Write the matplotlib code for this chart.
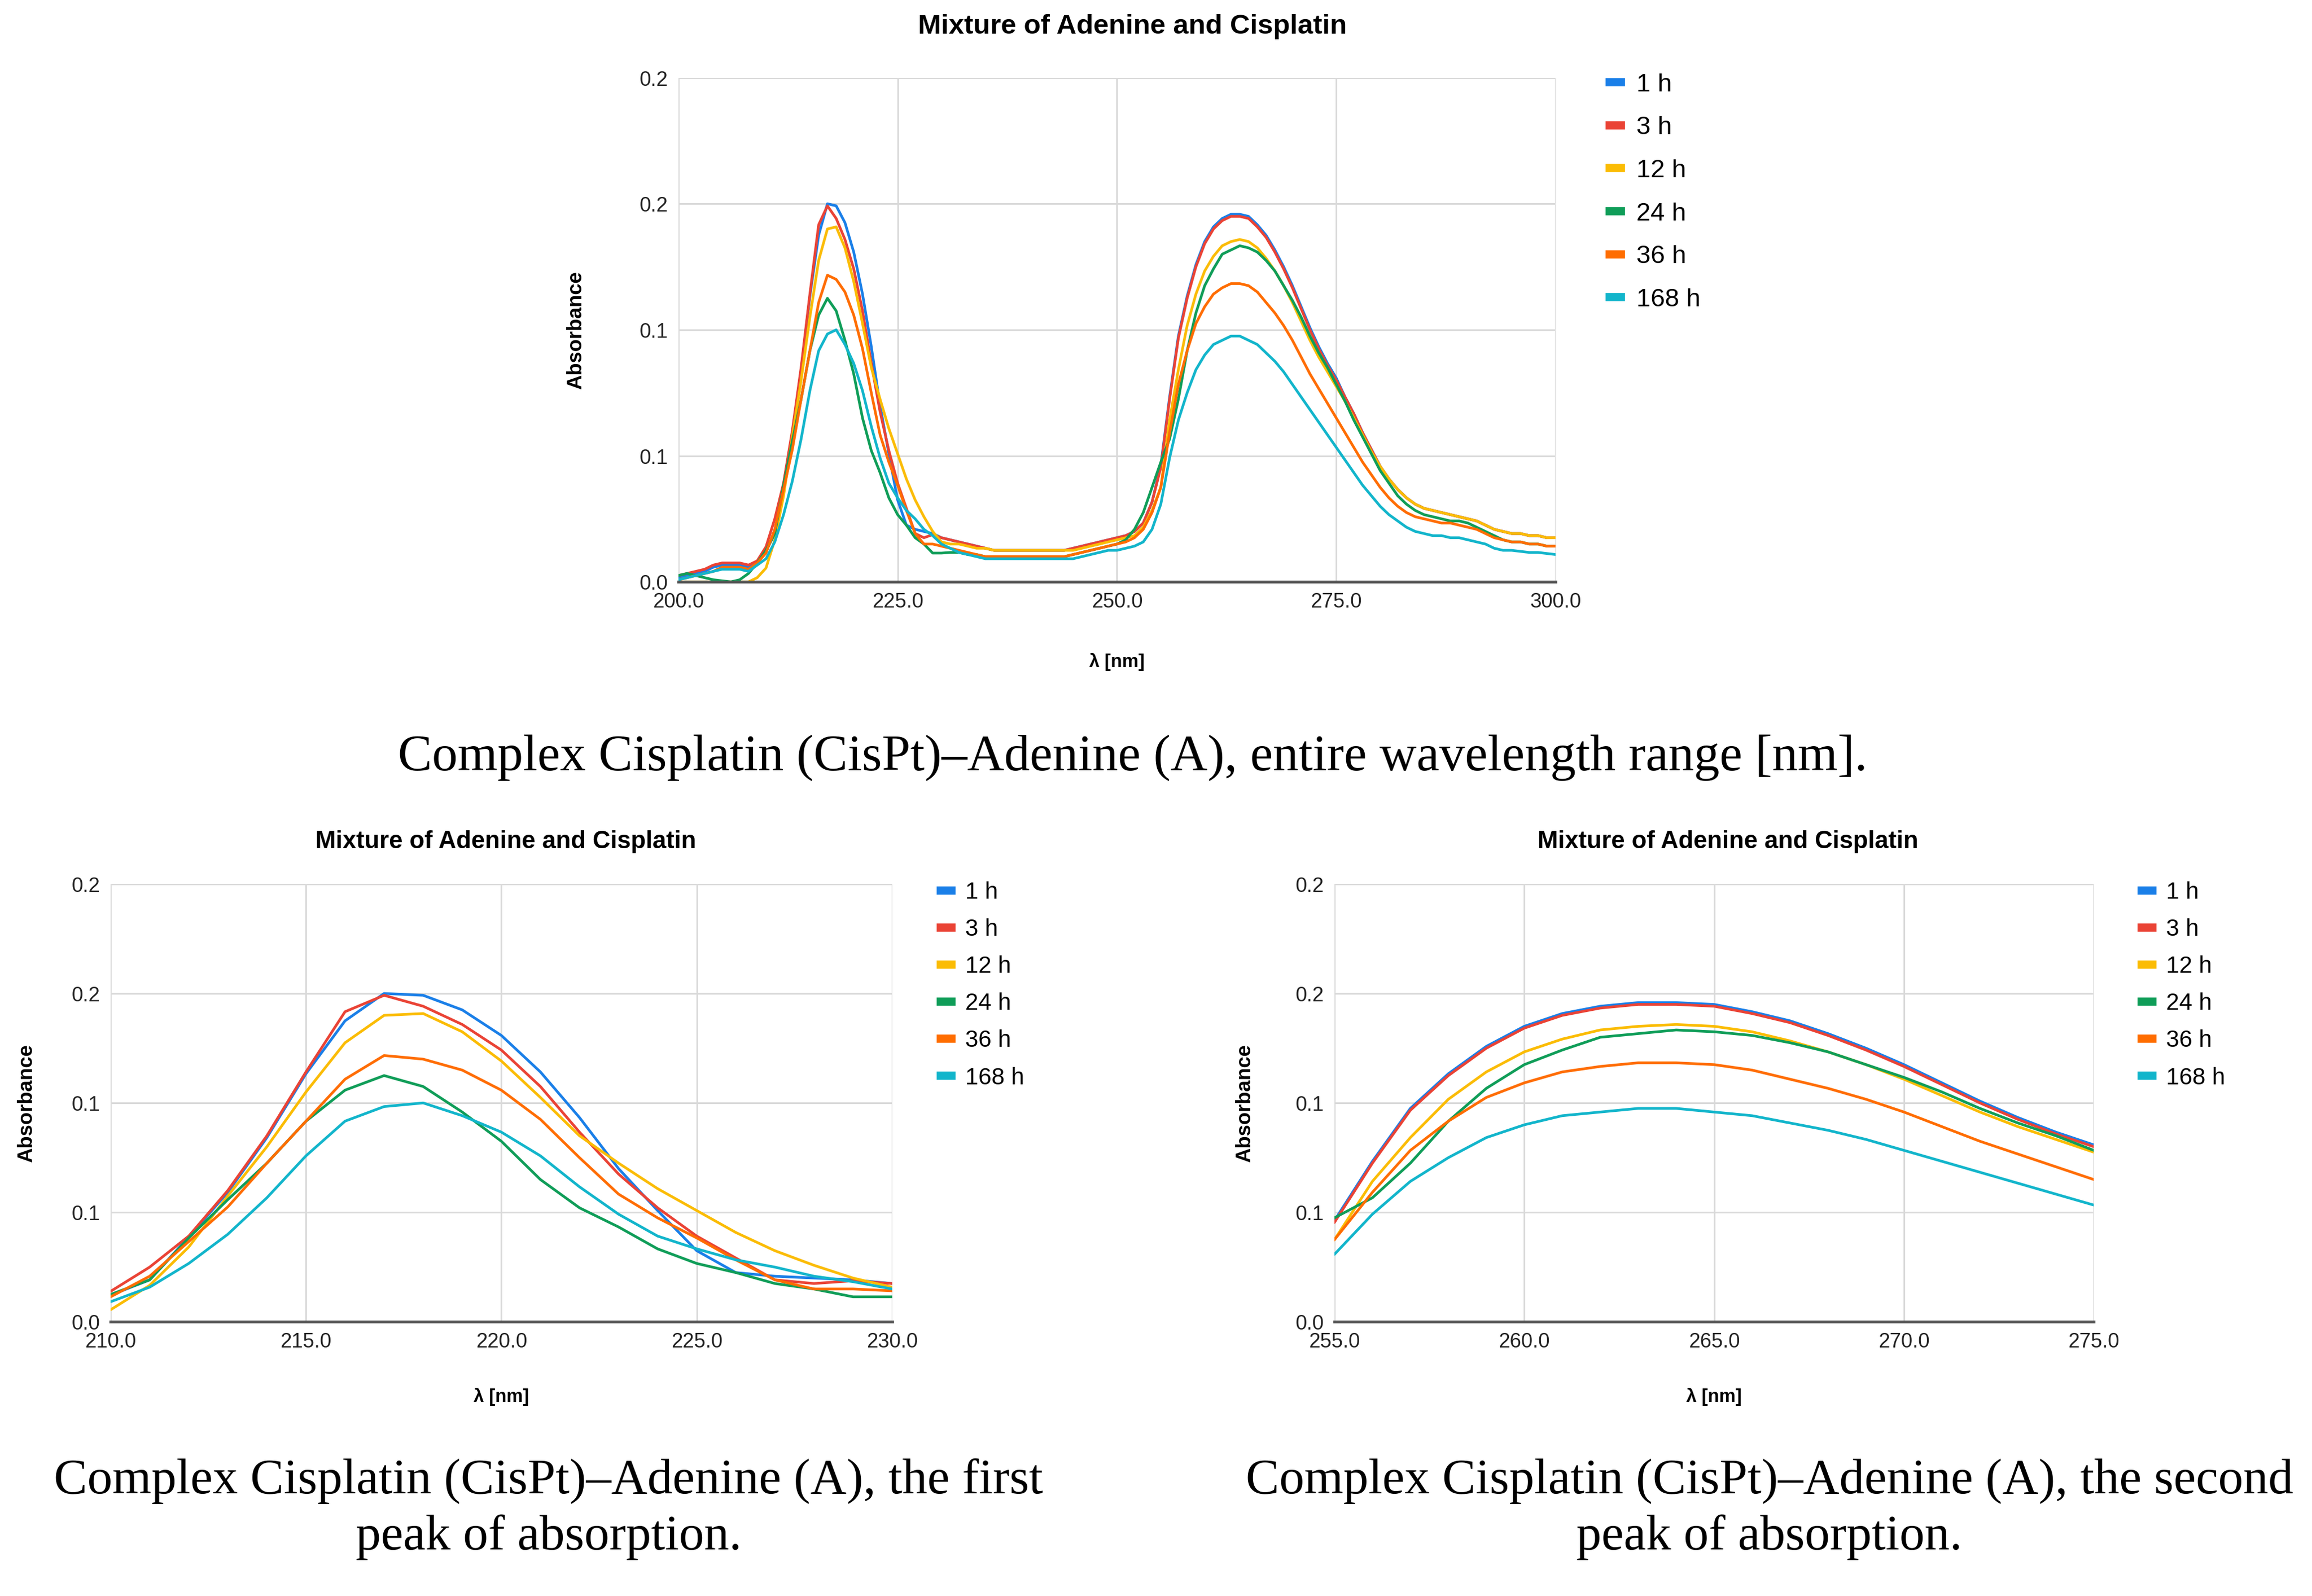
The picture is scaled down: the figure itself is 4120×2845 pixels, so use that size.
import numpy as np
import matplotlib
matplotlib.use("Agg")
import matplotlib.pyplot as plt

# ==========================================
# DATA (absorbance, 200-300 nm, 1 nm step)
# ==========================================

wavelength = list(range(200, 301))

labels = ["1 h", "3 h", "12 h", "24 h", "36 h", "168 h"]
colors = ["#1a7fe8", "#ea4335", "#fbbc04", "#0f9d58", "#ff6d01", "#12b5cb"]

y_ticks = [0.0, 0.06, 0.12, 0.18, 0.24]
y_tick_labels = ["0.0", "0.1", "0.1", "0.2", "0.2"]

a_1h = (
    [0.002, 0.003, 0.004, 0.005, 0.007, 0.008, 0.008, 0.008, 0.007, 0.009]
    + [0.0146, 0.023, 0.0465, 0.071, 0.101, 0.136, 0.165, 0.180, 0.179, 0.171,
       0.157, 0.137, 0.112, 0.084, 0.061, 0.039, 0.027, 0.025, 0.024, 0.023, 0.021]
    + [0.020, 0.019, 0.018, 0.017, 0.016, 0.015, 0.015, 0.015, 0.015, 0.015,
       0.015, 0.015, 0.015, 0.015, 0.016, 0.017, 0.018, 0.019, 0.020, 0.021,
       0.022, 0.024, 0.028, 0.038]
    + [0.0555, 0.088, 0.117, 0.136, 0.151, 0.162, 0.169, 0.173, 0.175, 0.175,
       0.174, 0.170, 0.165, 0.158, 0.150, 0.141, 0.131, 0.121, 0.112, 0.104, 0.097]
    + [0.088, 0.080, 0.071, 0.063, 0.055, 0.049, 0.044, 0.040, 0.037, 0.035,
       0.034, 0.033, 0.032, 0.031, 0.030, 0.029, 0.027, 0.025, 0.024, 0.023,
       0.023, 0.022, 0.022, 0.021, 0.021]
)

a_3h = (
    [0.003, 0.004, 0.005, 0.006, 0.008, 0.009, 0.009, 0.009, 0.008, 0.010]
    + [0.0167, 0.030, 0.047, 0.072, 0.102, 0.137, 0.170, 0.179, 0.173, 0.163,
       0.149, 0.129, 0.104, 0.081, 0.0625, 0.047, 0.035, 0.023, 0.021, 0.0225, 0.021]
    + [0.020, 0.019, 0.018, 0.017, 0.016, 0.015, 0.015, 0.015, 0.015, 0.015,
       0.015, 0.015, 0.015, 0.015, 0.016, 0.017, 0.018, 0.019, 0.020, 0.021,
       0.022, 0.024, 0.028, 0.038]
    + [0.0545, 0.087, 0.116, 0.135, 0.150, 0.161, 0.168, 0.172, 0.174, 0.174,
       0.173, 0.169, 0.164, 0.157, 0.149, 0.140, 0.130, 0.120, 0.111, 0.103, 0.096]
    + [0.088, 0.080, 0.071, 0.063, 0.055, 0.049, 0.044, 0.040, 0.037, 0.035,
       0.034, 0.033, 0.032, 0.031, 0.030, 0.029, 0.027, 0.025, 0.024, 0.023,
       0.023, 0.022, 0.022, 0.021, 0.021]
)

a_12h = (
    [0.0, 0.0, 0.0, 0.0, 0.0, 0.0, 0.0, 0.0, 0.0, 0.002]
    + [0.0066, 0.020, 0.041, 0.069, 0.096, 0.126, 0.153, 0.168, 0.169, 0.159,
       0.143, 0.123, 0.102, 0.087, 0.073, 0.061, 0.049, 0.039, 0.031, 0.024, 0.019]
    + [0.018, 0.018, 0.017, 0.016, 0.016, 0.015, 0.015, 0.015, 0.015, 0.015,
       0.015, 0.015, 0.015, 0.015, 0.015, 0.016, 0.017, 0.018, 0.019, 0.020,
       0.021, 0.022, 0.026, 0.034]
    + [0.045, 0.077, 0.101, 0.122, 0.137, 0.148, 0.155, 0.160, 0.162, 0.163,
       0.162, 0.159, 0.154, 0.148, 0.141, 0.133, 0.124, 0.115, 0.107, 0.100, 0.093]
    + [0.086, 0.078, 0.070, 0.062, 0.055, 0.049, 0.044, 0.040, 0.037, 0.035,
       0.034, 0.033, 0.032, 0.031, 0.030, 0.029, 0.027, 0.025, 0.024, 0.023,
       0.023, 0.022, 0.022, 0.021, 0.021]
)

a_24h = (
    [0.003, 0.004, 0.003, 0.002, 0.001, 0.0005, 0.0, 0.001, 0.004, 0.009]
    + [0.015, 0.023, 0.046, 0.067, 0.087, 0.110, 0.127, 0.135, 0.129, 0.115,
       0.099, 0.078, 0.0625, 0.052, 0.040, 0.032, 0.027, 0.021, 0.018, 0.0137, 0.0137]
    + [0.014, 0.014, 0.013, 0.013, 0.012, 0.012, 0.012, 0.012, 0.012, 0.012,
       0.012, 0.012, 0.012, 0.012, 0.013, 0.014, 0.015, 0.016, 0.017, 0.018,
       0.020, 0.025, 0.033, 0.045]
    + [0.057, 0.068, 0.087, 0.110, 0.128, 0.141, 0.149, 0.156, 0.158, 0.160,
       0.159, 0.157, 0.153, 0.148, 0.141, 0.134, 0.126, 0.117, 0.109, 0.102, 0.094]
    + [0.086, 0.077, 0.069, 0.061, 0.053, 0.047, 0.041, 0.037, 0.034, 0.032,
       0.031, 0.030, 0.029, 0.029, 0.028, 0.026, 0.024, 0.022, 0.020, 0.019,
       0.019, 0.018, 0.018, 0.017, 0.017]
)

a_36h = (
    [0.001, 0.002, 0.003, 0.004, 0.005, 0.007, 0.007, 0.007, 0.006, 0.009]
    + [0.0137, 0.025, 0.044, 0.063, 0.087, 0.110, 0.133, 0.146, 0.144, 0.138,
       0.127, 0.111, 0.090, 0.070, 0.057, 0.046, 0.034, 0.023, 0.018, 0.018, 0.017]
    + [0.016, 0.015, 0.014, 0.013, 0.012, 0.012, 0.012, 0.012, 0.012, 0.012,
       0.012, 0.012, 0.012, 0.012, 0.013, 0.014, 0.015, 0.016, 0.017, 0.018,
       0.019, 0.021, 0.025, 0.033]
    + [0.045, 0.071, 0.094, 0.110, 0.123, 0.131, 0.137, 0.140, 0.142, 0.142,
       0.141, 0.138, 0.133, 0.128, 0.122, 0.115, 0.107, 0.099, 0.092, 0.085, 0.078]
    + [0.071, 0.064, 0.057, 0.051, 0.045, 0.040, 0.036, 0.033, 0.031, 0.030,
       0.029, 0.028, 0.028, 0.027, 0.026, 0.025, 0.023, 0.021, 0.020, 0.019,
       0.019, 0.018, 0.018, 0.017, 0.017]
)

a_168h = (
    [0.001, 0.002, 0.003, 0.004, 0.005, 0.006, 0.006, 0.006, 0.005, 0.008]
    + [0.011, 0.019, 0.032, 0.048, 0.068, 0.091, 0.110, 0.118, 0.120, 0.113,
       0.104, 0.091, 0.074, 0.059, 0.047, 0.040, 0.034, 0.030, 0.025, 0.022, 0.018]
    + [0.016, 0.014, 0.013, 0.012, 0.011, 0.011, 0.011, 0.011, 0.011, 0.011,
       0.011, 0.011, 0.011, 0.011, 0.011, 0.012, 0.013, 0.014, 0.015, 0.015,
       0.016, 0.017, 0.019, 0.025]
    + [0.037, 0.059, 0.077, 0.090, 0.101, 0.108, 0.113, 0.115, 0.117, 0.117,
       0.115, 0.113, 0.109, 0.105, 0.100, 0.094, 0.088, 0.082, 0.076, 0.070, 0.064]
    + [0.058, 0.052, 0.046, 0.041, 0.036, 0.032, 0.029, 0.026, 0.024, 0.023,
       0.022, 0.022, 0.021, 0.021, 0.020, 0.019, 0.018, 0.016, 0.015, 0.015,
       0.0145, 0.014, 0.014, 0.0135, 0.013]
)

series = [a_1h, a_3h, a_12h, a_24h, a_36h, a_168h]

title_text = "Mixture of Adenine and Cisplatin"
caption_top = "Complex Cisplatin (CisPt)\u2013Adenine (A), entire wavelength range [nm]."
caption_left = "Complex Cisplatin (CisPt)\u2013Adenine (A), the first\npeak of absorption."
caption_right = "Complex Cisplatin (CisPt)\u2013Adenine (A), the second\npeak of absorption."

# ==========================================
# FIGURE
# ==========================================

plt.rcParams["font.family"] = ["Liberation Sans Narrow", "Liberation Sans", "DejaVu Sans"]

W, H = 1568, 1083
fig = plt.figure(figsize=(15.68, 10.83), dpi=262.76)


def make_panel(rect, xlim, xticks, label_x, xlabel_y, legend_top, legend_dy, legend_fs):
    ax = fig.add_axes(rect)
    for vals, col, lab in zip(series, colors, labels):
        ax.plot(wavelength, vals, color=col, linewidth=1.3, label=lab)
    ax.set_xlim(*xlim)
    ax.set_ylim(0, 0.24)
    ax.set_xticks(xticks)
    ax.set_xticklabels([f"{t:.1f}" for t in xticks], fontsize=10)
    ax.set_yticks(y_ticks)
    ax.set_yticklabels(y_tick_labels, fontsize=10)
    ax.grid(True, color="#d9d9d9", linewidth=0.8)
    ax.set_axisbelow(True)
    for s in ["top", "right", "left"]:
        ax.spines[s].set_visible(False)
    ax.spines["bottom"].set_color("#555555")
    ax.spines["bottom"].set_linewidth(1.4)
    ax.tick_params(length=0, pad=5, colors="#222222")
    ax.set_ylabel("Absorbance", family="Liberation Sans", fontweight="bold", fontsize=10)
    ax.yaxis.set_label_coords(label_x, 0.5)
    ax.set_xlabel("λ [nm]", family="Liberation Sans", fontweight="bold", fontsize=9)
    ax.xaxis.set_label_coords(0.5, xlabel_y)
    leg = ax.legend(loc="upper left", bbox_to_anchor=(1.035, legend_top), frameon=False,
                    handlelength=0.45, handletextpad=0.6, labelspacing=legend_dy,
                    fontsize=legend_fs)
    for line in leg.get_lines():
        line.set_linewidth(4)
    return ax


ax_top = make_panel([460 / W, 1 - 395 / H, 595 / W, 342 / H],
                    (200, 300), [200, 225, 250, 275, 300], -0.105, -0.14, 1.055, 0.78, 12.5)
fig.text(768 / W, 1 - 18 / H, title_text, ha="center", va="center",
         family="Liberation Sans", fontweight="bold", fontsize=13.5)

ax_bl = make_panel([75 / W, 1 - 897 / H, 530 / W, 297 / H],
                   (210, 230), [210, 215, 220, 225, 230], -0.095, -0.15, 1.055, 0.62, 11.5)
fig.text(343 / W, 1 - 571 / H, title_text, ha="center", va="center",
         family="Liberation Sans", fontweight="bold", fontsize=12)

ax_br = make_panel([905 / W, 1 - 897 / H, 515 / W, 297 / H],
                   (255, 275), [255, 260, 265, 270, 275], -0.105, -0.15, 1.055, 0.62, 11.5)
fig.text(1172 / W, 1 - 571 / H, title_text, ha="center", va="center",
         family="Liberation Sans", fontweight="bold", fontsize=12)

serif = ["Liberation Serif", "DejaVu Serif"]
fig.text(768 / W, 1 - 514 / H, caption_top, ha="center", va="center",
         family=serif, fontsize=25)
fig.text(372 / W, 1 - 1024 / H, caption_left, ha="center", va="center",
         family=serif, fontsize=24.5, linespacing=1.3)
fig.text(1200 / W, 1 - 1024 / H, caption_right, ha="center", va="center",
         family=serif, fontsize=24.5, linespacing=1.3)

fig.savefig("out.png", dpi=262.76)
